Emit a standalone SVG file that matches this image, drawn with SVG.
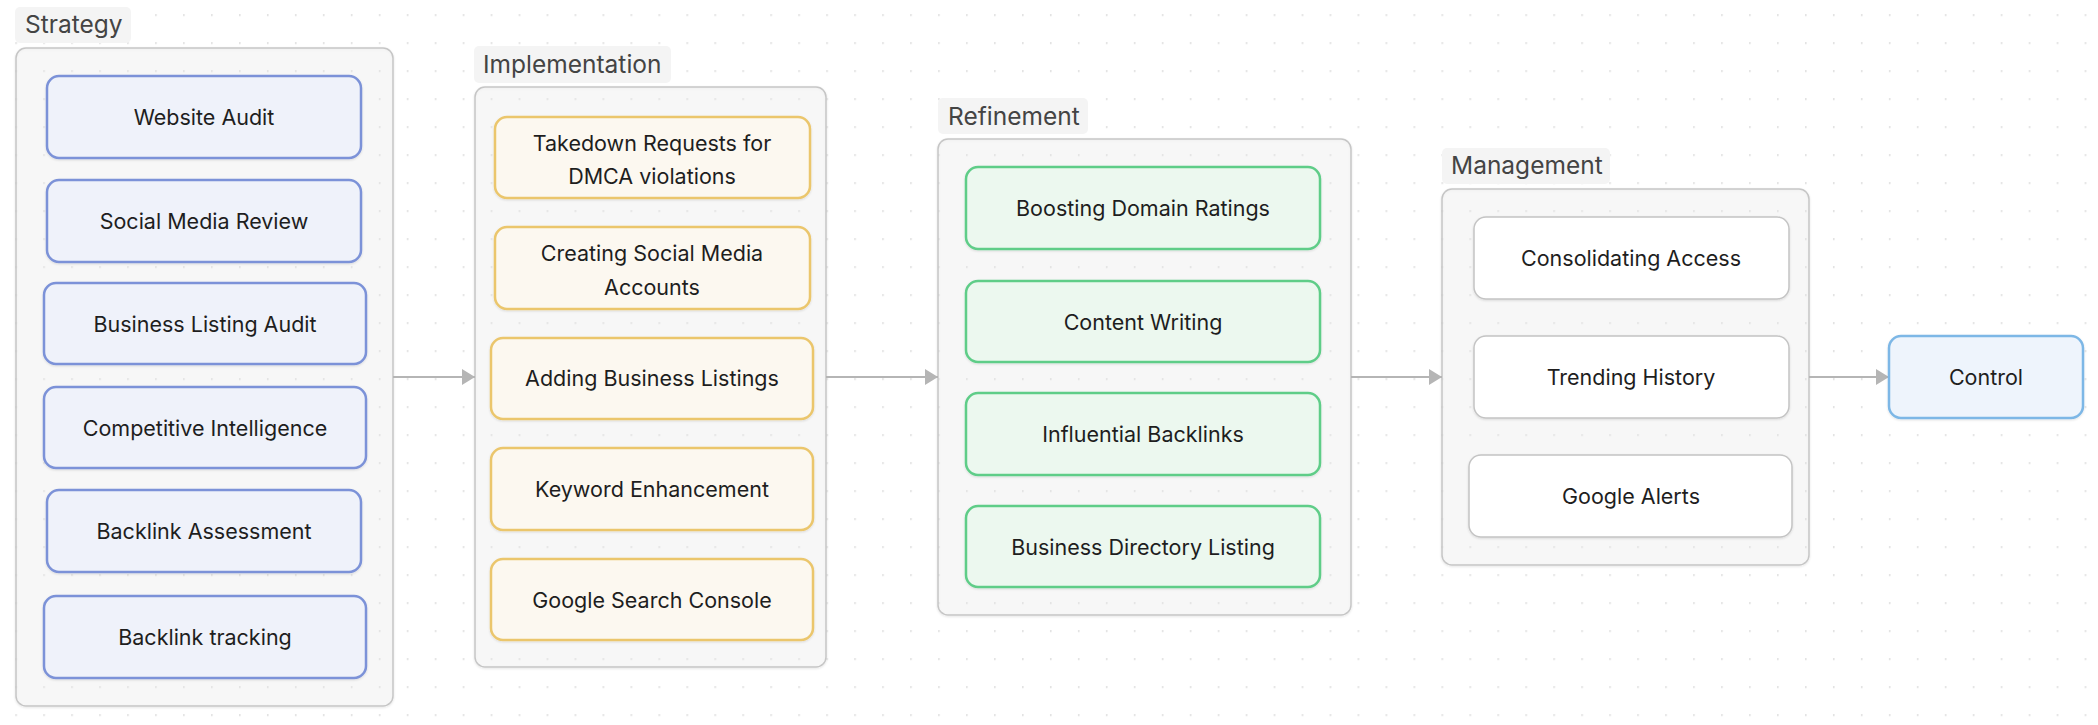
<svg xmlns="http://www.w3.org/2000/svg" width="2098" height="725" viewBox="0 0 2098 725">
<defs>
<pattern id="grid" patternUnits="userSpaceOnUse" x="15.3" y="14.3" width="27.964" height="28">
<circle cx="0.8" cy="0.8" r="0.9" fill="#d6d6d6"/>
</pattern>
<marker id="arrow" viewBox="0 0 13 16" refX="13" refY="8" markerWidth="13" markerHeight="16" markerUnits="userSpaceOnUse" orient="auto">
<path d="M0,0 L13,8 L0,16 Z" fill="#b5b5b5"/>
</marker>
<filter id="sh" x="-5%" y="-5%" width="110%" height="120%">
<feDropShadow dx="0" dy="1" stdDeviation="1.2" flood-color="#000" flood-opacity="0.12"/>
</filter>
</defs>
<style>
.lblbg{fill:#f4f4f4;}
.lbl{font-family:Inter,"Liberation Sans",sans-serif;font-size:24.5px;fill:#444444;}
.cont{fill:#eeeeee;fill-opacity:0.3;stroke:#c6c6c6;stroke-width:1.5;filter:url(#sh);}
.n{stroke-width:2.5;filter:url(#sh);}
.s{fill:#eff2fa;stroke:#7b92d8;}
.i{fill:#fcf8f0;stroke:#ebc66c;}
.r{fill:#ecf8ef;stroke:#5fcd88;}
.m{fill:#ffffff;stroke:#c4c4c4;stroke-width:1.5;}
.c{fill:#eef4fc;stroke:#7db7e6;}
.t{font-family:Inter,"Liberation Sans",sans-serif;font-size:21.5px;fill:#1e1e1e;text-anchor:middle;}
.e{fill:none;stroke:#b5b5b5;stroke-width:2;marker-end:url(#arrow);}
</style>
<rect width="2098" height="725" fill="#ffffff"/>
<rect width="2098" height="725" fill="url(#grid)"/>

<g id="strategy">
<rect class="cont" x="16" y="48" width="377" height="658" rx="10"/>
<rect class="lblbg" x="15" y="7" width="116" height="36" rx="5"/>
<text class="lbl" x="25" y="33">Strategy</text>
</g>
<g id="implementation">
<rect class="cont" x="475" y="87" width="351" height="580" rx="10"/>
<rect class="lblbg" x="474" y="46" width="197" height="37" rx="5"/>
<text class="lbl" x="483" y="73">Implementation</text>
</g>
<g id="refinement">
<rect class="cont" x="938" y="139" width="413" height="476" rx="10"/>
<rect class="lblbg" x="938" y="98" width="150" height="36" rx="5"/>
<text class="lbl" x="948" y="125">Refinement</text>
</g>
<g id="management">
<rect class="cont" x="1442" y="189" width="367" height="376" rx="10"/>
<rect class="lblbg" x="1442" y="148" width="168" height="36" rx="5"/>
<text class="lbl" x="1451" y="174">Management</text>
</g>

<g id="connectors">
<line class="e" x1="393" y1="377" x2="475" y2="377"/>
<line class="e" x1="826" y1="377" x2="938" y2="377"/>
<line class="e" x1="1351" y1="377" x2="1442" y2="377"/>
<line class="e" x1="1809" y1="377" x2="1889" y2="377"/>
</g>

<g id="website-audit"><rect class="n s" x="47" y="76" width="314" height="82" rx="12"/><text class="t" x="204" y="124.5">Website Audit</text></g>
<g id="social-media-review"><rect class="n s" x="47" y="180" width="314" height="82" rx="12"/><text class="t" x="204" y="228.5">Social Media Review</text></g>
<g id="business-listing-audit"><rect class="n s" x="44" y="283" width="322" height="81" rx="12"/><text class="t" x="205" y="331.5">Business Listing Audit</text></g>
<g id="competitive-intelligence"><rect class="n s" x="44" y="387" width="322" height="81" rx="12"/><text class="t" x="205" y="435.5">Competitive Intelligence</text></g>
<g id="backlink-assessment"><rect class="n s" x="47" y="490" width="314" height="82" rx="12"/><text class="t" x="204" y="538.5">Backlink Assessment</text></g>
<g id="backlink-tracking"><rect class="n s" x="44" y="596" width="322" height="82" rx="12"/><text class="t" x="205" y="644.5">Backlink tracking</text></g>

<g id="takedown-requests"><rect class="n i" x="495" y="117" width="315" height="81" rx="12"/><text class="t" x="652" y="150.5">Takedown Requests for</text><text class="t" x="652" y="183.5">DMCA violations</text></g>
<g id="creating-social-media"><rect class="n i" x="495" y="227" width="315" height="82" rx="12"/><text class="t" x="652" y="260.5">Creating Social Media</text><text class="t" x="652" y="294.5">Accounts</text></g>
<g id="adding-business-listings"><rect class="n i" x="491" y="338" width="322" height="81" rx="12"/><text class="t" x="652" y="385.5">Adding Business Listings</text></g>
<g id="keyword-enhancement"><rect class="n i" x="491" y="448" width="322" height="82" rx="12"/><text class="t" x="652" y="496.5">Keyword Enhancement</text></g>
<g id="google-search-console"><rect class="n i" x="491" y="559" width="322" height="81" rx="12"/><text class="t" x="652" y="607.5">Google Search Console</text></g>

<g id="boosting-domain-ratings"><rect class="n r" x="966" y="167" width="354" height="82" rx="12"/><text class="t" x="1143" y="215.5">Boosting Domain Ratings</text></g>
<g id="content-writing"><rect class="n r" x="966" y="281" width="354" height="81" rx="12"/><text class="t" x="1143" y="329.5">Content Writing</text></g>
<g id="influential-backlinks"><rect class="n r" x="966" y="393" width="354" height="82" rx="12"/><text class="t" x="1143" y="441.5">Influential Backlinks</text></g>
<g id="business-directory-listing"><rect class="n r" x="966" y="506" width="354" height="81" rx="12"/><text class="t" x="1143" y="554.5">Business Directory Listing</text></g>

<g id="consolidating-access"><rect class="n m" x="1474" y="217" width="315" height="82" rx="12"/><text class="t" x="1631" y="265.5">Consolidating Access</text></g>
<g id="trending-history"><rect class="n m" x="1474" y="336" width="315" height="82" rx="12"/><text class="t" x="1631" y="384.5">Trending History</text></g>
<g id="google-alerts"><rect class="n m" x="1469" y="455" width="323" height="82" rx="12"/><text class="t" x="1631" y="503.5">Google Alerts</text></g>

<g id="control"><rect class="n c" x="1889" y="336" width="194" height="82" rx="12"/><text class="t" x="1986" y="384.5">Control</text></g>
</svg>
